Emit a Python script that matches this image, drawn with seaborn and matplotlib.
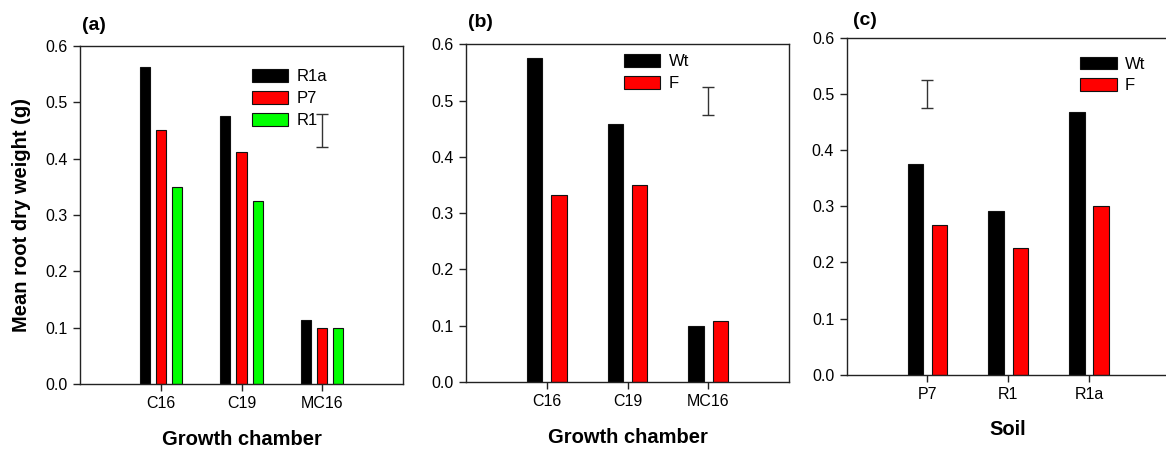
import numpy as np
import pandas as pd
import matplotlib
matplotlib.use("Agg")
import matplotlib.pyplot as plt
import seaborn as sns

# ---- data -------------------------------------------------------------
chambers = ["C16", "C19", "MC16"]

# (a) root dry weight by growth chamber for three soils
soils_a = ["R1a", "P7", "R1"]
weight_r1a = [0.562, 0.475, 0.113]
weight_p7 = [0.450, 0.412, 0.100]
weight_r1 = [0.350, 0.325, 0.100]

# (b) wild type vs. F by growth chamber
lines_bc = ["Wt", "F"]
wt_b = [0.575, 0.458, 0.100]
f_b = [0.333, 0.350, 0.108]

# (c) wild type vs. F by soil
soils_c = ["P7", "R1", "R1a"]
wt_c = [0.375, 0.292, 0.467]
f_c = [0.267, 0.225, 0.300]

# LSD bars: (category, centre, half-length)
lsd_a = ("MC16", 0.450, 0.029)
lsd_b = ("MC16", 0.500, 0.025)
lsd_c = ("P7", 0.500, 0.025)

ytick_vals = [0.0, 0.1, 0.2, 0.3, 0.4, 0.5, 0.6]

# ---- frames -----------------------------------------------------------
df_a = pd.DataFrame({
    "Growth chamber": chambers * 3,
    "Soil": [s for s in soils_a for _ in chambers],
    "weight": weight_r1a + weight_p7 + weight_r1,
})
df_b = pd.DataFrame({
    "Growth chamber": chambers * 2,
    "Line": [s for s in lines_bc for _ in chambers],
    "weight": wt_b + f_b,
})
df_c = pd.DataFrame({
    "Soil": soils_c * 2,
    "Line": [s for s in lines_bc for _ in soils_c],
    "weight": wt_c + f_c,
})

# ---- style ------------------------------------------------------------
sns.set_style("ticks")
plt.rcParams["font.family"] = ["Liberation Sans", "DejaVu Sans"]
plt.rcParams["axes.edgecolor"] = "#222222"
plt.rcParams["axes.linewidth"] = 1.0
plt.rcParams["text.color"] = "black"
plt.rcParams["axes.labelcolor"] = "black"
plt.rcParams["xtick.color"] = "black"
plt.rcParams["ytick.color"] = "black"

W, H = 1166, 450
fig = plt.figure(figsize=(W / 100, H / 100), dpi=100)


def px_axes(left, top, right, bottom):
    return fig.add_axes([left / W, 1 - bottom / H, (right - left) / W, (bottom - top) / H])


ax_a = px_axes(80, 46, 403, 384)
ax_b = px_axes(466, 44.3, 789, 382)
ax_c = px_axes(846.7, 37.7, 1169.7, 374.7)

pal3 = ["#000000", "#ff0000", "#00ff00"]
pal2 = ["#000000", "#ff0000"]

sns.barplot(data=df_a, x="Growth chamber", y="weight", hue="Soil", order=chambers,
            hue_order=soils_a, palette=pal3, width=0.6, gap=0.38,
            edgecolor="#111111", linewidth=0.8, saturation=1, ax=ax_a)
sns.barplot(data=df_b, x="Growth chamber", y="weight", hue="Line", order=chambers,
            hue_order=lines_bc, palette=pal2, width=0.6, gap=0.36,
            edgecolor="#111111", linewidth=0.8, saturation=1, ax=ax_b)
sns.barplot(data=df_c, x="Soil", y="weight", hue="Line", order=soils_c,
            hue_order=lines_bc, palette=pal2, width=0.6, gap=0.36,
            edgecolor="#111111", linewidth=0.8, saturation=1, ax=ax_c)


def finish(ax, cats, lsd, label, label_xy, xlabel, leg_xy, ylabel=None):
    ax.set_xlim(-1, 3)
    ax.set_ylim(0, 0.6)
    ax.set_yticks(ytick_vals)
    ax.set_yticklabels([f"{v:.1f}" for v in ytick_vals], fontsize=11.5)
    ax.set_xticks(range(len(cats)))
    ax.set_xticklabels(cats, fontsize=11.5)
    ax.tick_params(axis="both", direction="out", length=5, width=1, pad=4,
                   color="#222222", labelcolor="black")
    for s in ax.spines.values():
        s.set_visible(True)
    ax.set_xlabel(xlabel, fontsize=14.5, fontweight="bold", labelpad=13)
    if ylabel:
        ax.set_ylabel(ylabel, fontsize=14.5, fontweight="bold", labelpad=10)
    else:
        ax.set_ylabel("")
    cat, centre, half = lsd
    ax.errorbar([cats.index(cat)], [centre], yerr=[half], fmt="none",
                ecolor="#333333", elinewidth=1, capsize=4, capthick=1)
    handles, labels = ax.get_legend_handles_labels()
    ax.legend(handles, labels, loc="upper left",
              bbox_to_anchor=(leg_xy[0] / W, 1 - leg_xy[1] / H),
              bbox_transform=fig.transFigure, frameon=False, fontsize=12,
              borderpad=0, borderaxespad=0, handlelength=2.2, handleheight=0.8,
              handletextpad=0.5, labelspacing=0.4)
    fig.text(label_xy[0] / W, 1 - label_xy[1] / H, label, ha="center", va="center",
             fontsize=14, fontweight="bold")


finish(ax_a, chambers, lsd_a, "(a)", (93.8, 25), "Growth chamber", (251.7, 69.2),
       ylabel="Mean root dry weight (g)")
finish(ax_b, chambers, lsd_b, "(b)", (480, 22.7), "Growth chamber", (623.5, 54))
finish(ax_c, soils_c, lsd_c, "(c)", (864.7, 20.7), "Soil", (1080, 56.5))

fig.savefig("out.png", dpi=100)
